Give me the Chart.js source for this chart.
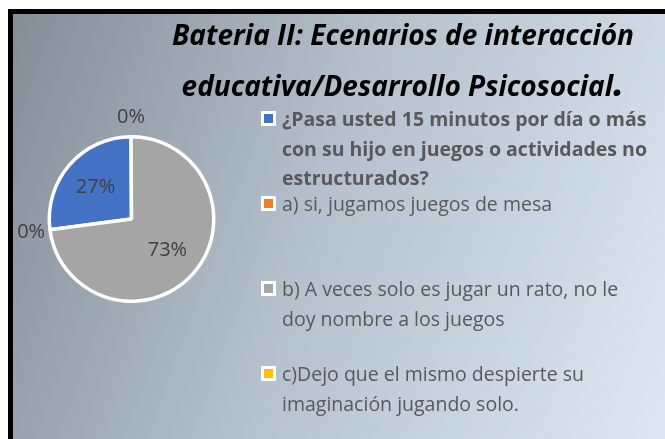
<!DOCTYPE html>
<html>
<head>
<meta charset="utf-8">
<script src="https://cdn.jsdelivr.net/npm/chart.js@4/dist/chart.umd.min.js"></script>
<style>
  html, body { margin:0; padding:0; width:665px; height:439px; overflow:hidden; background:#fff; }
  #frame { position:absolute; left:8px; top:9px; width:657px; height:430px; box-sizing:border-box;
           border-left:5px solid #000; border-top:5px solid #000;
           background:linear-gradient(110deg, #848e99 0%, #b3bfcb 45%, #dde8f3 100%); }
  #c { position:absolute; left:0; top:0; }
  #title { position:absolute; left:150px; width:506px; top:9px; text-align:center; white-space:nowrap;
           font-family:"Open Sans", Lato, sans-serif; font-weight:bold; font-style:italic;
           font-size:28px; line-height:51px; color:#000; }
  #title .dot { font-size:40px; line-height:0; }
  #legend { position:absolute; left:261px; top:104px; width:389px;
            font-family:"Open Sans", Lato, sans-serif; font-size:19.5px; line-height:29.5px; color:#595959; }
  .item { height:85px; position:relative; padding-left:21px; }
  .item .mk { position:absolute; left:0; top:7px; width:9px; height:9px; border:3px solid #fff; }
</style>
</head>
<body>
<div id="frame"></div>
<canvas id="c" width="665" height="439"></canvas>
<div id="title"></div>
<div id="legend"></div>
<script>
const titleLines = ["Bateria II: Ecenarios de interacción", "educativa/Desarrollo Psicosocial"];
const categories = [
  "¿Pasa usted 15 minutos por día o más con su hijo en juegos o actividades no estructurados?",
  "a) si, jugamos juegos de mesa",
  "b) A veces solo es jugar un rato, no le doy nombre a los juegos",
  "c)Dejo que el mismo despierte su imaginación jugando solo."
];
const percentValues = [27, 0, 73, 0];
const sliceColors = ["#4472C4", "#ED7D31", "#A5A5A5", "#FFC000"];
const legendBold = [true, false, false, false];

// Title
document.getElementById('title').innerHTML =
  titleLines[0] + '<br>' + titleLines[1] + '<span class="dot">.</span>';

// Legend (built from the data arrays)
const leg = document.getElementById('legend');
categories.forEach((c, i) => {
  const d = document.createElement('div');
  d.className = 'item';
  if (legendBold[i]) d.style.fontWeight = 'bold';
  const mk = document.createElement('span');
  mk.className = 'mk';
  mk.style.background = sliceColors[i];
  d.appendChild(mk);
  d.appendChild(document.createTextNode(c));
  leg.appendChild(d);
});

const labelPlugin = {
  id: 'pctLabels',
  afterDatasetsDraw(chart) {
    const ctx = chart.ctx;
    const meta = chart.getDatasetMeta(0);
    ctx.save();
    ctx.font = '20px "Open Sans", Lato, sans-serif';
    ctx.fillStyle = '#404040';
    ctx.textAlign = 'center';
    ctx.textBaseline = 'middle';
    meta.data.forEach((arc, i) => {
      const p = arc.getProps(['x', 'y', 'startAngle', 'endAngle', 'outerRadius'], true);
      const mid = (p.startAngle + p.endAngle) / 2;
      const v = percentValues[i];
      const R = v > 0 ? p.outerRadius * 0.58 : p.outerRadius + 19;
      const x = p.x + Math.cos(mid) * R;
      const y = p.y + Math.sin(mid) * R;
      ctx.fillText(v + '%', x, y);
    });
    ctx.restore();
  }
};

new Chart(document.getElementById('c'), {
  type: 'pie',
  data: {
    labels: categories,
    datasets: [{
      data: percentValues,
      backgroundColor: sliceColors,
      borderColor: '#ffffff',
      borderWidth: 3.5
    }]
  },
  options: {
    responsive: false,
    animation: false,
    rotation: -97.5,
    layout: { padding: { left: 47, top: 135, right: 449, bottom: 136 } },
    plugins: { legend: { display: false }, tooltip: { enabled: false }, title: { display: false } }
  },
  plugins: [labelPlugin]
});
</script>
</body>
</html>
